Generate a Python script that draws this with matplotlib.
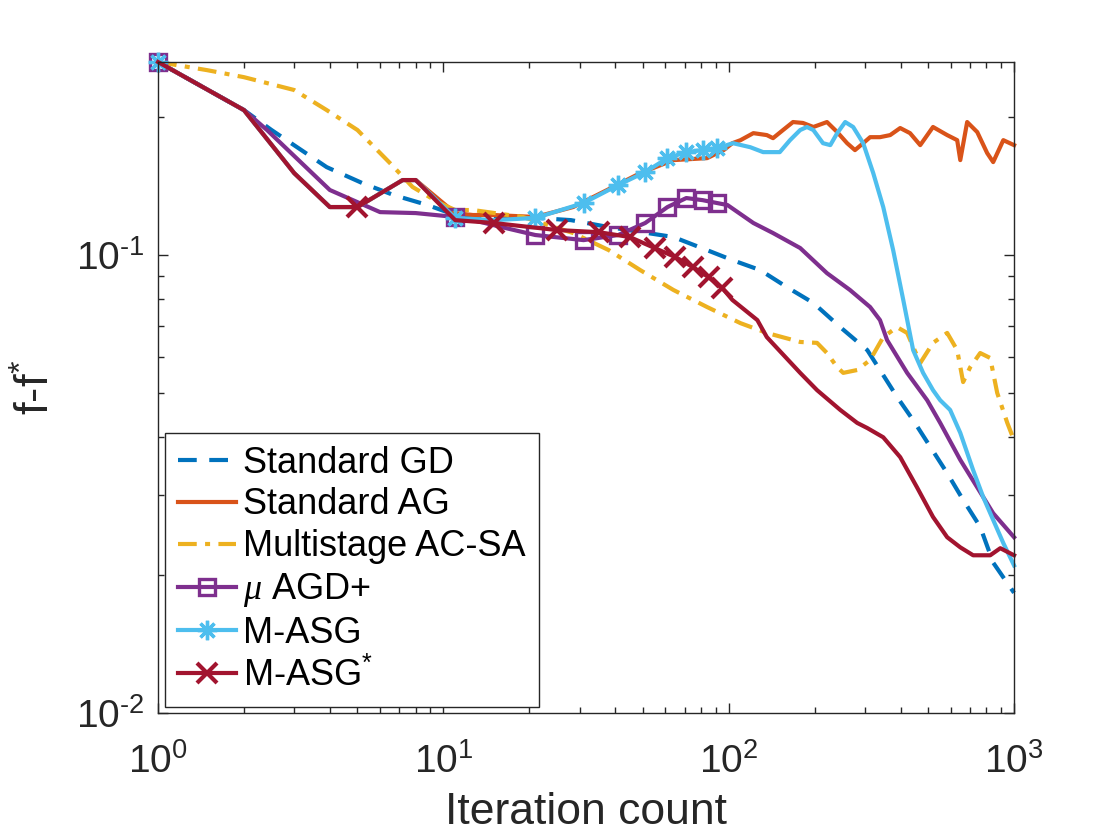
import matplotlib
matplotlib.use("Agg")
import numpy as np
import matplotlib.pyplot as plt
from matplotlib.ticker import NullFormatter, LogLocator, FuncFormatter

plt.rcParams['font.family'] = ['Liberation Sans', 'DejaVu Sans']
plt.rcParams['mathtext.default'] = 'regular'
plt.rcParams['mathtext.fontset'] = 'custom'
plt.rcParams['mathtext.rm'] = 'Liberation Sans'
plt.rcParams['mathtext.it'] = 'Liberation Serif:italic'
plt.rcParams['axes.unicode_minus'] = False

# ---------------- data ----------------
labels = ["Standard GD", "Standard AG", "Multistage AC-SA",
          r"$\mathit{\mu}$ AGD+", "M-ASG", r"M-ASG$^{*}$"]

gd_x = [1, 2, 2.5, 3.9, 5.2, 6.7, 8.8, 11, 19, 28, 38, 64, 84, 103, 129, 160,
        198, 246, 306, 339, 389, 443, 509, 583, 663, 761, 845, 916, 1000]
gd_y = [0.264, 0.2073, 0.1875, 0.1556, 0.1436, 0.1352, 0.1286, 0.1223, 0.1211,
        0.1192, 0.1151, 0.1095, 0.1025, 0.0975, 0.0927, 0.0851, 0.0786, 0.0696,
        0.0620, 0.0561, 0.0490, 0.0436, 0.0381, 0.0334, 0.0292, 0.0255, 0.0213,
        0.0198, 0.0183]

ag_x = [1, 2, 3, 4, 5, 7.2, 8, 11, 12.7, 15, 21, 28.5, 37.5, 49, 64, 84, 96,
        103, 110, 122, 136, 143, 155, 168, 182, 198, 221, 240, 260, 277, 296,
        313, 339, 368, 399, 432, 469, 520, 583, 632, 648, 685, 743, 805, 845,
        917, 1000]
ag_y = [0.264, 0.2073, 0.1510, 0.1273, 0.1273, 0.1458, 0.1458, 0.1235, 0.1223,
        0.1223, 0.1211, 0.1273, 0.1387, 0.1510, 0.1612, 0.1628, 0.1695, 0.1755,
        0.1782, 0.1846, 0.1828, 0.1800, 0.1875, 0.1952, 0.1943, 0.1904, 0.1952,
        0.1856, 0.1755, 0.1695, 0.1755, 0.1809, 0.1809, 0.1828, 0.1894, 0.1846,
        0.1738, 0.1904, 0.1828, 0.1782, 0.1612, 0.1952, 0.1856, 0.1670, 0.1596,
        0.1782, 0.1738]

acsa_x = [1, 1.485, 2, 3, 3.9, 5, 6.5, 7.8, 9.7, 11, 12.7, 19, 28.5, 38, 49,
          64, 84, 110, 136, 178, 204, 221, 240, 252, 282, 313, 348, 389, 422,
          469, 520, 583, 632, 663, 702, 761, 825, 873, 947, 1000]
acsa_y = [0.264, 0.2534, 0.2446, 0.2293, 0.2073, 0.1875, 0.1588, 0.1408,
          0.1299, 0.1254, 0.1254, 0.1211, 0.1117, 0.1025, 0.0927, 0.0839,
          0.0770, 0.0710, 0.0676, 0.0646, 0.0643, 0.0611, 0.0569, 0.0553,
          0.0561, 0.0590, 0.0662, 0.0696, 0.0676, 0.0581, 0.0643, 0.0676,
          0.0620, 0.0528, 0.0569, 0.0611, 0.0596, 0.0500, 0.0430, 0.0394]

magd_x = [1, 2, 2.41, 4, 6, 8, 11, 12.7, 16, 21, 31, 41, 51, 61, 71, 81, 91,
          99, 122, 143, 178, 221, 266, 313, 339, 359, 422, 496, 551, 648, 743,
          845, 1000]
magd_y = [0.264, 0.2073, 0.1875, 0.1387, 0.1241, 0.1235, 0.1211, 0.1192,
          0.1151, 0.1106, 0.1078, 0.1106, 0.1175, 0.1273, 0.1332, 0.1318,
          0.1299, 0.1286, 0.1175, 0.1117, 0.1036, 0.0913, 0.0839, 0.0770,
          0.0721, 0.0652, 0.0553, 0.0482, 0.0430, 0.0357, 0.0311, 0.0273,
          0.0242]

masg_x = [1, 2, 3, 4, 5, 7.2, 8, 11, 15, 21, 31, 41, 51, 61, 71, 81, 91, 103.5,
          119, 132, 151, 164, 178, 188, 198, 214, 227, 240, 256, 273, 296, 321,
          348, 377, 409, 443, 480, 520, 551, 597, 648, 719, 780, 845, 917, 1000]
masg_y = [0.264, 0.2073, 0.1510, 0.1273, 0.1273, 0.1458, 0.1458, 0.1205,
          0.1192, 0.1205, 0.1299, 0.1422, 0.1518, 0.1628, 0.1678, 0.1695,
          0.1712, 0.1755, 0.1720, 0.1678, 0.1678, 0.1782, 0.1875, 0.1904,
          0.1875, 0.1755, 0.1738, 0.1846, 0.1952, 0.1904, 0.1755, 0.1510,
          0.1273, 0.1025, 0.0798, 0.0620, 0.0553, 0.0507, 0.0482, 0.0459,
          0.0409, 0.0339, 0.0296, 0.0264, 0.0235, 0.0210]

masgs_x = [1, 2, 3, 4, 5, 7.2, 8, 11, 15, 25, 35, 45, 55, 65, 75, 85, 95, 103,
           126, 136, 178, 204, 246, 282, 306, 348, 399, 457, 520, 583, 648,
           719, 825, 895, 1000]
masgs_y = [0.264, 0.2073, 0.1510, 0.1273, 0.1273, 0.1458, 0.1458, 0.1192,
           0.1175, 0.1134, 0.1122, 0.1095, 0.1036, 0.0990, 0.0941, 0.0895,
           0.0847, 0.0798, 0.0721, 0.0662, 0.0553, 0.0507, 0.0459, 0.0430,
           0.0419, 0.0400, 0.0362, 0.0311, 0.0268, 0.0242, 0.0230, 0.0221,
           0.0221, 0.0229, 0.0221]

marks_10 = [1, 11, 21, 31, 41, 51, 61, 71, 81, 91]
marks_5 = [5, 15, 25, 35, 45, 55, 65, 75, 85, 95]

colors = ["#0072BD", "#D95319", "#EDB120", "#7E2F8E", "#4DBEEE", "#A2142F"]

# ---------------- figure ----------------
fig = plt.figure(figsize=(11.2, 8.4), dpi=100)
ax = fig.add_axes([0.1411, 0.1512, 0.7643, 0.7750])

lw = 3.0
ms = 11
mew = 2.4


def idx(xs, marks):
    return [i for i, v in enumerate(xs) if v in marks]


ax.plot(gd_x, gd_y, color=colors[0], lw=lw, linestyle=(0, (4.5, 3.0)),
        label=labels[0], clip_on=False)
ax.plot(ag_x, ag_y, color=colors[1], lw=lw, label=labels[1], clip_on=False)
ax.plot(acsa_x, acsa_y, color=colors[2], lw=lw, linestyle=(0, (4.5, 2.0, 1.2, 2.0)),
        label=labels[2], clip_on=False)
ax.plot(magd_x, magd_y, color=colors[3], lw=lw, marker='s', ms=ms,
        mfc='none', mew=mew, markevery=idx(magd_x, marks_10),
        label=labels[3], clip_on=False)
ax.plot(masg_x, masg_y, color=colors[4], lw=lw, marker=(8, 2, 0), ms=ms + 3,
        mew=mew, markevery=idx(masg_x, marks_10), label=labels[4],
        clip_on=False)
ax.plot(masgs_x, masgs_y, color=colors[5], lw=lw, marker='x', ms=ms + 3,
        mew=mew + 0.6, markevery=idx(masgs_x, marks_5), label=labels[5],
        clip_on=False)

ax.set_xscale('log')
ax.set_yscale('log')
ax.set_xlim(1, 1000)
ax.set_ylim(0.01, 0.264)


def pow_fmt(v, pos):
    e = int(round(np.log10(v)))
    if e < 0:
        return r"$10^{\text{-}%d}$" % (-e)
    return r"$10^{%d}$" % e


ax.xaxis.set_major_formatter(FuncFormatter(pow_fmt))
ax.yaxis.set_major_formatter(FuncFormatter(pow_fmt))
ax.xaxis.set_minor_formatter(NullFormatter())
ax.yaxis.set_minor_formatter(NullFormatter())
ax.yaxis.set_major_locator(LogLocator(base=10, numticks=10))

ax.tick_params(which='both', direction='in', top=True, right=True,
               width=1.0, colors='#262626')
ax.tick_params(which='major', length=7, labelsize=28)
ax.tick_params(axis='x', which='major', pad=22)
ax.tick_params(axis='y', which='major', pad=10)
ax.tick_params(which='minor', length=4)
for s in ax.spines.values():
    s.set_linewidth(1.0)
    s.set_color('#262626')

ax.set_xlabel("Iteration count", fontsize=32, color='#262626', labelpad=8)
ax.set_ylabel(r"f-f$^{*}$", fontsize=33, color='#262626', labelpad=12)

leg = ax.legend(loc='lower left', bbox_to_anchor=(0.008, 0.009),
                borderaxespad=0, fontsize=26, frameon=True, fancybox=False,
                framealpha=1, edgecolor='#262626', handlelength=1.6,
                handletextpad=0.2, labelspacing=0.19, borderpad=0.36)
leg.get_frame().set_linewidth(1.0)

fig.savefig("out.png", dpi=100)
